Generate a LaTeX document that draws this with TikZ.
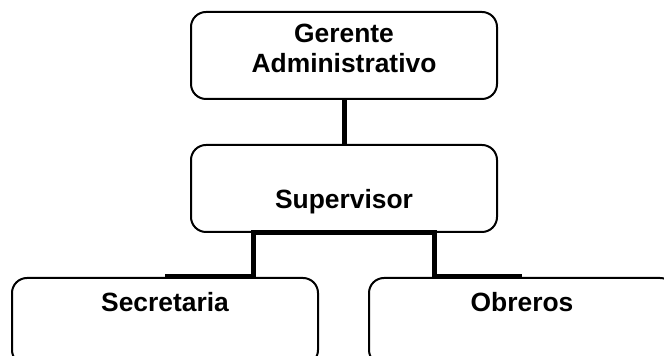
\documentclass[tikz,border=0pt]{standalone}
\usepackage{fontspec}
\setmainfont{Liberation Sans}
\usetikzlibrary{calc,positioning}
\newdimen\cajaw
\newdimen\cajah
\cajaw=153pt
\cajah=43.5pt
\tikzstyle{caja}=[
  draw=black,
  line width=1pt,
  rounded corners=7.5pt,
  minimum width=\cajaw,
  minimum height=\cajah,
  inner sep=0pt,
]
\tikzstyle{rotulo}=[
  font={\fontsize{13.2}{15}\selectfont\bfseries},
  align=center,
]
\tikzstyle{enlace}=[
  draw=black,
  line width=2.5pt,
]
\tikzset{
  x=0.5pt,
  y=-0.5pt,
  node distance=22pt,
}
\begin{document}
\begin{tikzpicture}
  \useasboundingbox (0,0) rectangle (664,356);
  \node [caja, label={[rotulo, yshift=3.75pt]center:{Gerente\\Administrativo}}]
    (ger) at (344,55.5) {};
  \node [caja, below=of ger, label={[rotulo, yshift=-6.75pt]center:Supervisor}]
    (sup) {};
  \node [caja, below=of sup, xshift=-89.5pt, label={[rotulo, yshift=9.75pt]center:Secretaria}]
    (sec) {};
  \node [caja, below=of sup, xshift=89pt, label={[rotulo, yshift=9.75pt]center:Obreros}]
    (obr) {};
  % lineas de mando
  \draw [enlace] (ger.south) -- (sup.north);
  \draw [enlace] (sec.north) -| ($(sup.south)+(-91,0)$)
    -- ($(sup.south)+(90,0)$) |- (obr.north);
\end{tikzpicture}
\end{document}
